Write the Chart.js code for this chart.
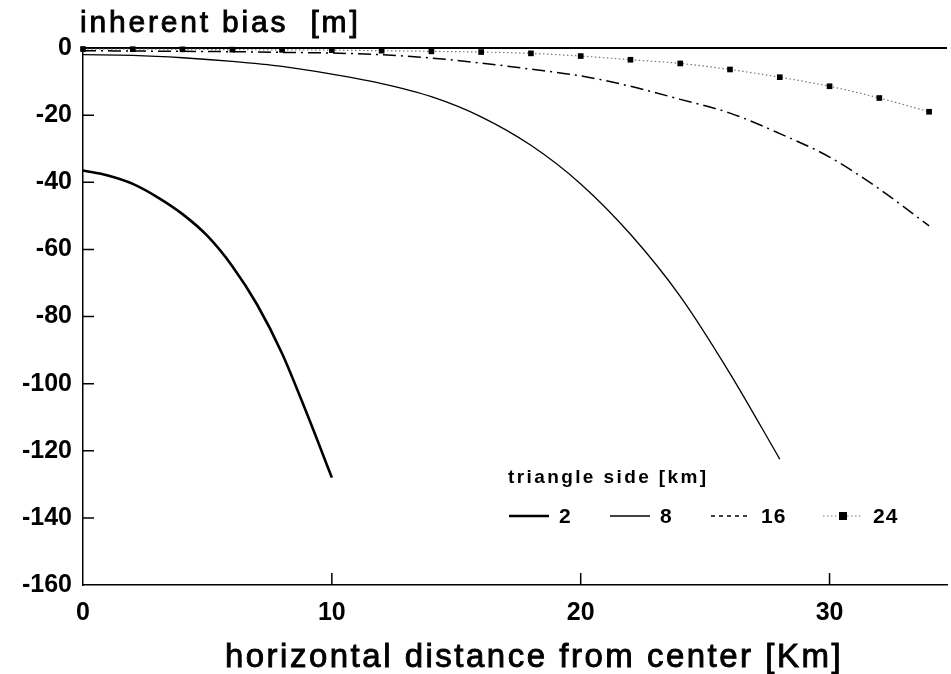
<!DOCTYPE html>
<html>
<head>
<meta charset="utf-8">
<script src="https://cdn.jsdelivr.net/npm/chart.js@4.4.1/dist/chart.umd.min.js"></script>
<style>
html, body { margin: 0; padding: 0; background: #fff; }
#wrap { width: 951px; height: 674px; }
</style>
</head>
<body>
<div id="wrap"><canvas id="myChart" width="951" height="674"></canvas></div>
<script>
// triangle side 2 km
const dist2 = [0, 1, 2, 3, 4, 5, 6, 7, 8, 9, 10];
const bias2 = [-36.5, -38, -40.5, -44.5, -49.5, -56, -65, -76.5, -91, -109, -128];
// triangle side 8 km
const dist8 = [0, 2, 4, 6, 8, 10, 12, 14, 16, 18, 20, 22, 24, 26, 28];
const bias8 = [-2, -2.2, -2.9, -4, -5.5, -7.8, -10.6, -14.5, -20.5, -29, -40.5, -55.5, -74, -97, -122.5];
// triangle side 16 km
const dist16 = [0, 2, 4, 6, 8, 10, 12, 14, 16, 18, 20, 22, 24, 26, 28, 30, 32, 34];
const bias16 = [-0.8, -0.9, -1.0, -1.1, -1.3, -1.5, -2.0, -3.0, -4.5, -6.3, -8.3, -11.4, -15.3, -19.4, -25.5, -32.5, -42, -53];
// triangle side 24 km
const dist24 = [0, 2, 4, 6, 8, 10, 12, 14, 16, 18, 20, 22, 24, 26, 28, 30, 32, 34];
const bias24 = [-0.3, -0.35, -0.4, -0.5, -0.55, -0.65, -0.8, -1.0, -1.2, -1.6, -2.4, -3.5, -4.6, -6.4, -8.7, -11.4, -14.9, -19.0];

const sideLabels = ['2', '8', '16', '24'];
const xTicks = [0, 10, 20, 30];
const yTicks = [0, -20, -40, -60, -80, -100, -120, -140, -160];

const FONT = '"Liberation Sans", Arial, Helvetica, sans-serif';

function pts(xs, ys) {
    return xs.map((v, i) => ({ x: v, y: ys[i] }));
}

// regular face drawn with a thin outline, to get a medium weight
function mediumText(ctx, text, x, y) {
    ctx.fillText(text, x, y);
    ctx.lineWidth = 0.9;
    ctx.strokeText(text, x, y);
}

// inward ticks, titles and legend
const decorations = {
    id: 'decorations',
    afterDraw(chart) {
        const { ctx, chartArea: a, scales: { x, y } } = chart;
        ctx.save();
        ctx.strokeStyle = '#000';
        ctx.lineWidth = 1.5;
        ctx.beginPath();
        x.ticks.forEach(t => {
            if (t.value > 0) {
                const px = x.getPixelForValue(t.value);
                ctx.moveTo(px, a.bottom);
                ctx.lineTo(px, a.bottom - 12);
            }
        });
        y.ticks.forEach(t => {
            if (t.value > -160 && t.value < 0) {
                const py = y.getPixelForValue(t.value);
                ctx.moveTo(a.left, py);
                ctx.lineTo(a.left + 11, py);
            }
        });
        ctx.stroke();

        ctx.fillStyle = '#000';
        ctx.textBaseline = 'alphabetic';
        ctx.textAlign = 'left';
        ctx.font = '30px ' + FONT;
        ctx.letterSpacing = '2.8px';
        mediumText(ctx, 'inherent bias  [m]', 80, 32);

        ctx.font = '33px ' + FONT;
        ctx.letterSpacing = '2.5px';
        ctx.textAlign = 'center';
        mediumText(ctx, 'horizontal distance from center [Km]', 534, 667);

        // legend
        ctx.textAlign = 'left';
        ctx.font = 'bold 19px ' + FONT;
        ctx.letterSpacing = '2.4px';
        ctx.fillText('triangle side [km]', 508, 483);

        const starts = [509, 610, 711, 823];
        const ly = 516;
        ctx.font = 'bold 21px ' + FONT;
        ctx.letterSpacing = '1px';
        ctx.textBaseline = 'middle';
        chart.data.datasets.forEach((ds, i) => {
            const sx = starts[i];
            ctx.save();
            ctx.strokeStyle = ds.borderColor;
            ctx.lineWidth = ds.borderWidth;
            ctx.setLineDash(ds.legendDash || []);
            ctx.beginPath();
            ctx.moveTo(sx, ly);
            ctx.lineTo(sx + 40, ly);
            ctx.stroke();
            ctx.restore();
            if (ds.pointRadius > 0) {
                ctx.fillRect(sx + 20 - 4, ly - 4, 8, 8);
            }
            ctx.fillText(ds.label, sx + 50, ly + 1);
        });
        ctx.restore();
    }
};

const ctx = document.getElementById('myChart').getContext('2d');

new Chart(ctx, {
    type: 'line',
    data: {
        datasets: [{
            label: sideLabels[0],
            data: pts(dist2, bias2),
            borderColor: '#000',
            borderWidth: 2.6,
            pointRadius: 0,
            cubicInterpolationMode: 'monotone'
        }, {
            label: sideLabels[1],
            data: pts(dist8, bias8),
            borderColor: '#000',
            borderWidth: 1.3,
            pointRadius: 0,
            cubicInterpolationMode: 'monotone'
        }, {
            label: sideLabels[2],
            data: pts(dist16, bias16),
            borderColor: '#000',
            borderWidth: 1.5,
            borderDash: [13, 5, 2, 5],
            legendDash: [4, 4],
            pointRadius: 0,
            cubicInterpolationMode: 'monotone'
        }, {
            label: sideLabels[3],
            data: pts(dist24, bias24),
            borderColor: '#777',
            borderWidth: 1.2,
            borderDash: [1.5, 2.5],
            legendDash: [1.5, 2.5],
            pointStyle: 'rect',
            pointRadius: 4,
            pointBackgroundColor: '#000',
            pointBorderColor: '#000',
            pointBorderWidth: 0,
            cubicInterpolationMode: 'monotone',
            clip: 8
        }]
    },
    options: {
        responsive: false,
        animation: false,
        devicePixelRatio: 1,
        layout: { padding: { top: 48, left: 0, right: 0, bottom: 0 } },
        plugins: {
            legend: { display: false },
            tooltip: { enabled: false },
            title: { display: false }
        },
        scales: {
            x: {
                type: 'linear',
                min: 0,
                max: 34.72,
                afterBuildTicks: s => { s.ticks = xTicks.map(v => ({ value: v })); },
                afterFit: s => { s.height = 89; },
                border: { color: '#000', width: 1.5 },
                grid: { display: false, drawTicks: false },
                ticks: {
                    color: '#000',
                    padding: 13,
                    maxRotation: 0,
                    font: { family: FONT, size: 25, weight: 'bold' }
                }
            },
            y: {
                min: -160,
                max: 0,
                afterBuildTicks: s => { s.ticks = yTicks.map(v => ({ value: v })); },
                afterFit: s => { s.width = 83; },
                border: { color: '#000', width: 1.5 },
                grid: {
                    drawTicks: false,
                    lineWidth: 2,
                    color: c => (c.tick && c.tick.value === 0) ? '#000' : 'transparent'
                },
                ticks: {
                    color: '#000',
                    padding: 11,
                    font: { family: FONT, size: 25, weight: 'bold' }
                }
            }
        }
    },
    plugins: [decorations]
});
</script>
</body>
</html>
